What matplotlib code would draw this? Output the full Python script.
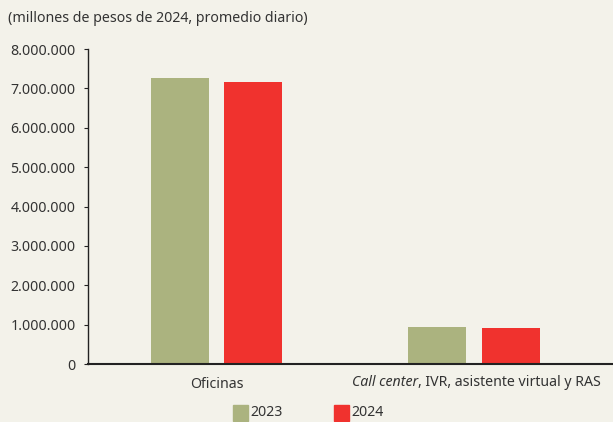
import matplotlib.pyplot as plt
from matplotlib.patches import Rectangle
from matplotlib.ticker import FuncFormatter

plt.rcParams['font.family'] = ['Noto Sans', 'DejaVu Sans']

categories = ["Oficinas", "Call center"]
years = ["2023", "2024"]
values_2023 = [7260000, 940000]
values_2024 = [7160000, 910000]
yticks = [0, 1000000, 2000000, 3000000, 4000000, 5000000, 6000000, 7000000, 8000000]

bg = "#f3f2ea"
green = "#abb37f"
red = "#f0322e"
txt = "#333333"
fs = 10.2

fig = plt.figure(figsize=(6.13, 4.22), dpi=100, facecolor=bg)
ax = fig.add_axes([88 / 613, 1 - 364 / 422, (612 - 88) / 613, (364 - 49) / 422])
ax.set_facecolor(bg)

x = list(range(len(categories)))
w = 0.225
off = 0.142
ax.bar([i - off for i in x], values_2023, width=w, color=green)
ax.bar([i + off for i in x], values_2024, width=w, color=red)

ax.set_xlim(-0.499, 1.536)
ax.set_ylim(0, 8000000)
ax.set_yticks(yticks)
ax.yaxis.set_major_formatter(FuncFormatter(lambda v, p: f"{int(v):,}".replace(",", ".")))
ax.tick_params(axis="y", length=3, width=0.8, colors="#222222", labelcolor=txt, labelsize=fs, pad=6)
ax.tick_params(axis="x", length=0, labelcolor=txt, labelsize=fs, pad=9)
ax.set_xticks(x)
ax.set_xticklabels(["Oficinas", ""])

# second category label: italic "Call center" + regular rest
fig.text(418 / 613, 1 - 382 / 422, "Call center", style="italic", fontsize=fs, color=txt,
         ha="right", va="center")
fig.text(418 / 613, 1 - 382 / 422, ", IVR, asistente virtual y RAS", fontsize=fs, color=txt,
         ha="left", va="center")

for s in ["top", "right"]:
    ax.spines[s].set_visible(False)
ax.spines["left"].set_color("#222222")
ax.spines["bottom"].set_color("#222222")
ax.spines["left"].set_linewidth(1.0)
ax.spines["bottom"].set_linewidth(1.5)

fig.text(8 / 613, 1 - 18 / 422, "(millones de pesos de 2024, promedio diario)",
         fontsize=fs, color=txt, va="center", ha="left")

# legend
for x0, c, lab in [(233, green, years[0]), (334, red, years[1])]:
    fig.patches.append(Rectangle((x0 / 613, 1 - 421 / 422), 15 / 613, 16 / 422,
                                 transform=fig.transFigure, color=c))
    fig.text((x0 + 17) / 613, 1 - 413 / 422, lab, fontsize=fs, color=txt, va="center", ha="left")

fig.savefig("out.png", dpi=100, facecolor=bg)
